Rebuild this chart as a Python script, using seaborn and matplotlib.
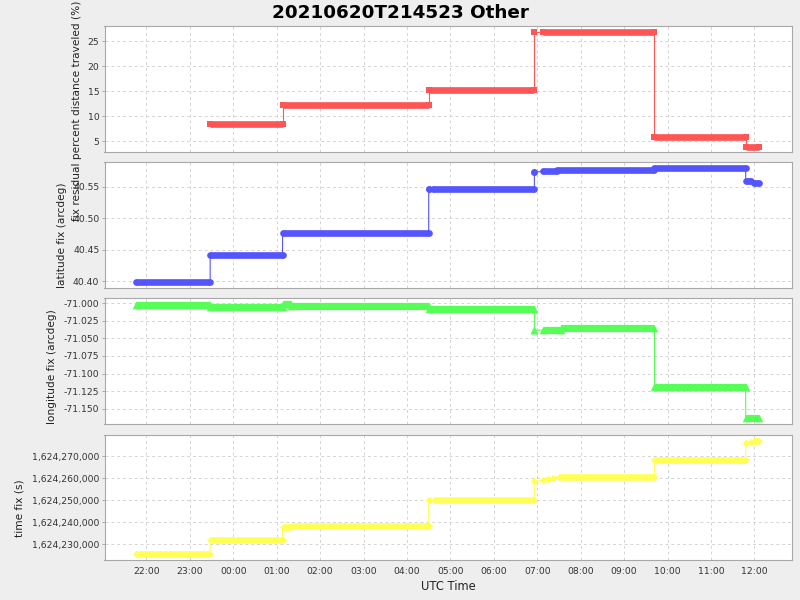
import matplotlib
matplotlib.use('Agg')
import pandas as pd
import seaborn as sns
from matplotlib import pyplot as plt
from matplotlib import dates as mdates
from matplotlib.ticker import MultipleLocator, FuncFormatter

# each panel is a run of plateaus: start time, end time (UTC, HH:MM), value
residual_start = ['23:28', '01:08', '04:30', '06:56', '07:08', '09:42', '11:48']
residual_end = ['01:08', '04:30', '06:56', '06:56', '09:42', '11:48', '12:07']
residual_value = [8.4, 12.2, 15.2, 26.8, 26.8, 5.8, 3.8]

latitude_start = ['21:46', '23:28', '01:08', '04:30', '04:36', '06:56', '07:08', '07:27', '09:42', '11:48', '12:00']
latitude_end = ['23:28', '01:08', '04:30', '04:30', '06:56', '06:56', '07:27', '09:42', '11:48', '11:55', '12:07']
latitude_value = [40.3984, 40.4419, 40.4774, 40.5469, 40.5469, 40.5734, 40.5745, 40.5766, 40.5797, 40.5594, 40.5563]

longitude_start = ['21:46', '23:28', '01:08', '01:20', '04:30', '06:56', '07:08', '07:33', '09:42', '11:48']
longitude_end = ['23:28', '01:08', '01:20', '04:30', '06:56', '06:56', '07:33', '09:42', '11:48', '12:07']
longitude_value = [-71.0021, -71.0051, -71.0015, -71.0039, -71.0076, -71.0387, -71.0382, -71.0348, -71.1190, -71.1639]

timefix_start = ['21:46', '23:28', '01:08', '01:20', '04:30', '04:37', '06:56', '07:08', '07:15', '07:22',
                 '07:30', '09:42', '11:48', '11:55', '12:00']
timefix_end = ['23:28', '01:08', '01:18', '04:30', '04:30', '06:56', '06:56', '07:08', '07:15', '07:22',
               '09:42', '11:48', '11:48', '11:55', '12:07']
timefix_value = [1624225500, 1624231818, 1624237727, 1624238485, 1624250000, 1624250000, 1624258636,
                 1624259091, 1624259697, 1624260152, 1624260758, 1624268485, 1624276212, 1624276515,
                 1624277121]

TITLE = '20210620T214523 Other'


def to_time(hhmm):
    day = '2021-06-20' if int(hhmm[:2]) >= 21 else '2021-06-21'
    return pd.Timestamp(f'{day} {hhmm}')


def draw_steps(ax, starts, ends, values, color, marker, band, marker_size):
    t_start = [to_time(s) for s in starts]
    t_end = [to_time(e) for e in ends]
    path = pd.DataFrame({
        'time': [t for pair in zip(t_start, t_end) for t in pair],
        'value': [v for v in values for _ in range(2)],
    })
    # thin line joining every fix in order
    sns.lineplot(data=path, x='time', y='value', ax=ax, color=color, linewidth=0.8,
                 sort=False, estimator=None)
    # dense markers form a thick band over each plateau
    ax.hlines(values, mdates.date2num(t_start), mdates.date2num(t_end), colors=color,
              linewidth=band, capstyle='butt')
    ends_df = pd.DataFrame({'time': t_start + t_end, 'value': list(values) * 2})
    sns.scatterplot(data=ends_df, x='time', y='value', ax=ax, color=color, marker=marker,
                    s=marker_size ** 2, linewidth=0, legend=False)


sns.set_style('white')
plt.rcParams['font.family'] = ['DejaVu Sans']

fig = plt.figure(figsize=(8, 6), dpi=100, facecolor='#eeeeee')
left, width = 104.5 / 800, 687.5 / 800
panel_px = [(26.0, 152.2), (162.3, 288.0), (298.3, 424.3), (434.7, 560.3)]
axes = []
for top, bottom in panel_px:
    ax = fig.add_axes([left, 1 - bottom / 600, width, (bottom - top) / 600],
                      sharex=axes[0] if axes else None)
    axes.append(ax)

draw_steps(axes[0], residual_start, residual_end, residual_value, '#ff5555', 's', 4.8, 4.8)
draw_steps(axes[1], latitude_start, latitude_end, latitude_value, '#5555ff', 'o', 4.8, 4.8)
draw_steps(axes[2], longitude_start, longitude_end, longitude_value, '#55ff55', '^', 5.2, 5.5)
draw_steps(axes[3], timefix_start, timefix_end, timefix_value, '#ffff55', 'D', 4.8, 3.6)

axes[0].set_ylim(2.8, 28.07)
axes[0].yaxis.set_major_locator(MultipleLocator(5))
axes[0].yaxis.set_major_formatter(FuncFormatter(lambda v, p: f'{v:.0f}'))

axes[1].set_ylim(40.3892, 40.589)
axes[1].yaxis.set_major_locator(MultipleLocator(0.05))
axes[1].yaxis.set_major_formatter(FuncFormatter(lambda v, p: f'{v:.2f}'))

axes[2].set_ylim(-71.1722, -70.9931)
axes[2].yaxis.set_major_locator(MultipleLocator(0.025))
axes[2].yaxis.set_major_formatter(FuncFormatter(lambda v, p: f'{v:.3f}'))

axes[3].set_ylim(1624222727, 1624279848)
axes[3].yaxis.set_major_locator(MultipleLocator(10000))
axes[3].yaxis.set_major_formatter(FuncFormatter(lambda v, p: f'{v:,.0f}'))

ylabels = ['fix residual percent distance traveled (%)', 'latitude fix (arcdeg)',
           'longitude fix (arcdeg)', 'time fix (s)']
label_pos = [(-0.0332, 0.3265), (-0.055, 0.4216), (-0.0695, 0.457), (-0.117, 0.414)]

for ax, label, (lx, ly) in zip(axes, ylabels, label_pos):
    ax.set_facecolor('white')
    ax.grid(True, color='#d4d4d4', linewidth=0.7, linestyle=(0, (3, 3)))
    for spine in ax.spines.values():
        spine.set_color('#a8a8a8')
        spine.set_linewidth(0.8)
    ax.tick_params(axis='y', direction='out', length=2, width=0.6, color='#a0a0a0',
                   pad=1.7, labelsize=6.7, labelcolor='#333333', left=True)
    ax.tick_params(axis='x', length=0, pad=5, labelsize=6.7, labelcolor='#333333')
    ax.set_ylabel(label, fontsize=7.6, color='#222222')
    ax.yaxis.set_label_coords(lx, ly)
    ax.set_xlabel('')

for ax in axes[:3]:
    ax.tick_params(axis='x', labelbottom=False)

axes[3].set_xlim(to_time('21:02'), to_time('12:52'))
axes[3].xaxis.set_major_locator(mdates.HourLocator())
axes[3].xaxis.set_major_formatter(mdates.DateFormatter('%H:%M'))
axes[3].set_xlabel('UTC Time', fontsize=8.3, color='#222222', labelpad=3)

fig.text(0.5, 1 - 18.3 / 600, TITLE, ha='center', va='baseline', fontsize=13.2,
         fontweight='bold', color='black')

fig.savefig('out.png', dpi=100, facecolor=fig.get_facecolor())
